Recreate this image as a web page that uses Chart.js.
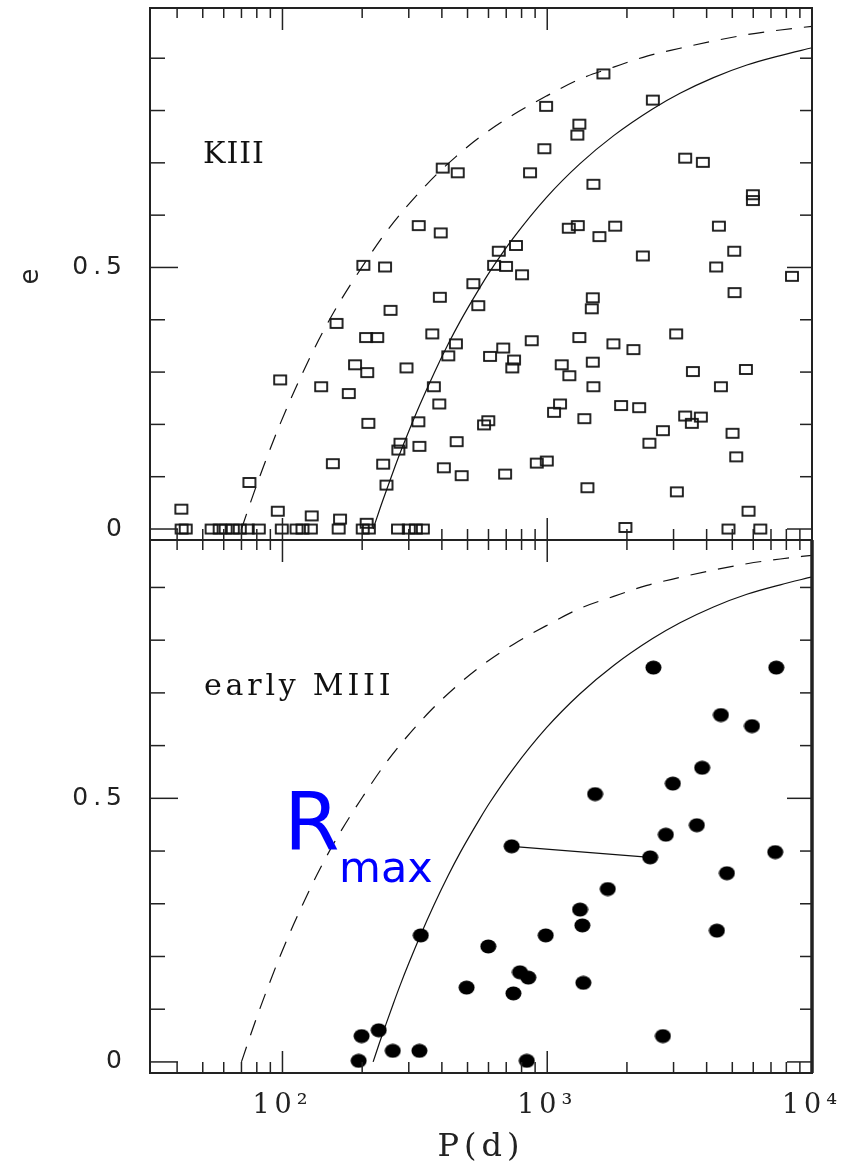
<!DOCTYPE html>
<html>
<head>
<meta charset="utf-8">
<script src="https://cdn.jsdelivr.net/npm/chart.js@4.4.1/dist/chart.umd.min.js"></script>
<style>
body{margin:0;background:#fff;}
#wrap{position:relative;width:844px;height:1165px;background:#fff;overflow:hidden;}
#top{position:absolute;left:0;top:0;}
#bot{position:absolute;left:0;top:530px;}
</style>
</head>
<body>
<div id="wrap">
<canvas id="top" width="844" height="545"></canvas>
<canvas id="bot" width="844" height="635"></canvas>
</div>
<script>
// KIII (open squares), period in days and eccentricity
const kP = [403, 459, 327, 396, 202, 244, 1630, 2505, 990, 1322, 1299, 975, 861, 1494, 3319, 3871, 5983, 5983,
  1206, 1304, 1574, 1805, 4450, 656, 762, 2297, 5084, 630, 699, 803, 4346, 8402,
  526, 393, 549, 256, 160, 207, 228, 368, 452, 423, 608, 188, 209, 294, 98, 140, 178, 373, 391, 211,
  326, 599, 577, 455, 279, 274, 329, 155, 240, 407, 475, 75, 247, 41.5, 96, 129, 165, 208,
  5098, 1486, 1473, 874, 682, 749, 738, 1134, 1212, 1322, 1486, 1494, 1778, 2116, 3069, 3549, 4529, 5628,
  1118, 1061, 1381, 1901, 2224, 3319, 3804, 3518, 2734, 2432, 5009, 5173, 996, 913, 693, 1418, 3087, 5758,
  1974, 4837, 6376,
  41.6, 43.1, 54, 57.9, 61, 64.9, 69, 73.9, 81.4, 99.4, 113, 119, 128, 163, 201, 212, 273, 300, 319, 339];
const kE = [0.690, 0.681, 0.580, 0.566, 0.504, 0.501, 0.870, 0.820, 0.808, 0.774, 0.753, 0.727, 0.681, 0.659, 0.709, 0.701, 0.639, 0.628,
  0.575, 0.580, 0.559, 0.579, 0.579, 0.531, 0.542, 0.522, 0.531, 0.504, 0.502, 0.486, 0.501, 0.483,
  0.469, 0.443, 0.427, 0.418, 0.393, 0.366, 0.366, 0.373, 0.354, 0.331, 0.330, 0.314, 0.299, 0.308, 0.285, 0.272, 0.259, 0.272, 0.239, 0.202,
  0.205, 0.207, 0.199, 0.167, 0.164, 0.151, 0.158, 0.125, 0.124, 0.117, 0.102, 0.089, 0.084, 0.038, 0.034, 0.025, 0.019, 0.011,
  0.452, 0.442, 0.421, 0.360, 0.346, 0.323, 0.308, 0.314, 0.293, 0.366, 0.319, 0.272, 0.354, 0.343, 0.373, 0.301, 0.272, 0.305,
  0.239, 0.223, 0.211, 0.236, 0.232, 0.216, 0.214, 0.202, 0.188, 0.164, 0.183, 0.138, 0.130, 0.126, 0.105, 0.079, 0.071, 0.034,
  0.003, 0, 0,
  0, 0, 0, 0, 0, 0, 0, 0, 0, 0, 0, 0, 0, 0, 0, 0, 0, 0, 0, 0];

// early MIII (filled circles)
const mP = [2518, 7328, 4529, 5933, 3848, 2982, 1516, 3674, 2805, 734, 2447, 7264, 4770, 1693, 1330, 1357,
  987, 599, 789, 848, 745, 1369, 4373, 2734, 837, 333, 496, 199, 231, 261, 329, 194];
const mE = [0.748, 0.748, 0.658, 0.637, 0.558, 0.528, 0.508, 0.449, 0.431, 0.409, 0.388, 0.398, 0.358, 0.328, 0.289, 0.259,
  0.240, 0.219, 0.170, 0.160, 0.130, 0.150, 0.249, 0.049, 0.002, 0.240, 0.141, 0.049, 0.060, 0.021, 0.021, 0.002];
// the two MIII points joined by a line
const linkP = [734, 2447];
const linkE = [0.409, 0.388];

// envelope curves
const dashP = [70, 74, 80, 88, 98, 110, 127, 145, 165, 201, 250, 351, 450, 556, 744, 996, 1327, 1782, 2381, 3174, 4245, 5676, 7594, 10000];
const dashE = [0, 0.036, 0.085, 0.141, 0.201, 0.26, 0.328, 0.385, 0.435, 0.503, 0.572, 0.659, 0.711, 0.749, 0.792, 0.828, 0.86, 0.883, 0.904, 0.919, 0.933, 0.945, 0.954, 0.961];
const solidP = [220, 232, 247, 262, 280, 300, 330, 373, 423, 469, 556, 607, 744, 994, 1327, 1782, 2500, 3174, 4245, 5676, 7594, 10000];
const solidE = [0, 0.035, 0.074, 0.11, 0.149, 0.187, 0.237, 0.297, 0.354, 0.397, 0.461, 0.492, 0.556, 0.634, 0.698, 0.752, 0.803, 0.833, 0.863, 0.887, 0.905, 0.92];

// ticks
const xTickVals = [100, 1000, 10000];
const xTickLabels = ['10²', '10³', '10⁴'];
const xMinor = [40, 50, 60, 70, 80, 90, 200, 300, 400, 500, 600, 700, 800, 900, 2000, 3000, 4000, 5000, 6000, 7000, 8000, 9000];
const yTickVals = [0, 0.5];
const yTickLabels = ['0', '0.5'];
const yMinor = [0.1, 0.2, 0.3, 0.4, 0.6, 0.7, 0.8, 0.9];

function pts(xs, ys) { return xs.map((v, i) => ({x: v, y: ys[i]})); }

function squareImg() {
  const c = document.createElement('canvas');
  c.width = 16; c.height = 13;
  const g = c.getContext('2d');
  g.strokeStyle = '#111'; g.lineWidth = 1.8;
  g.strokeRect(2, 2, 12, 9);
  return c;
}
function dotImg() {
  const c = document.createElement('canvas');
  c.width = 17; c.height = 15;
  const g = c.getContext('2d');
  g.fillStyle = '#000';
  g.beginPath(); g.ellipse(8.5, 7.5, 8, 7, 0, 0, Math.PI * 2); g.fill();
  return c;
}

const frameTicks = {
  id: 'frameTicks',
  beforeDraw(chart) { chart.ctx.letterSpacing = '5px'; },
  afterDraw(chart, args, opts) {
    const {ctx, chartArea: a} = chart;
    const x = chart.scales.x, y = chart.scales.y;
    ctx.save();
    ctx.strokeStyle = '#222';
    ctx.lineWidth = 1.5;
    const seg = (x1, y1, x2, y2) => { ctx.beginPath(); ctx.moveTo(x1, y1); ctx.lineTo(x2, y2); ctx.stroke(); };
    xMinor.forEach(v => { const p = x.getPixelForValue(v); seg(p, a.bottom, p, a.bottom - 11); seg(p, a.top, p, a.top + 10); });
    xTickVals.slice(0, 2).forEach(v => { const p = x.getPixelForValue(v); seg(p, a.bottom, p, a.bottom - 22); seg(p, a.top, p, a.top + 22); });
    yMinor.forEach(v => { const p = y.getPixelForValue(v); seg(a.left, p, a.left + 15, p); seg(a.right, p, a.right - 12, p); });
    yTickVals.forEach(v => { const p = y.getPixelForValue(v); seg(a.left, p, a.left + 28, p); seg(a.right, p, a.right - 25, p); });
    ctx.lineWidth = 2;
    ctx.strokeRect(a.left, a.top, a.right - a.left, a.bottom - a.top);
    if (opts.thickRight) { ctx.lineWidth = 3.5; seg(a.right, a.top, a.right, a.bottom); }
    ctx.restore();
  }
};

const notes = {
  id: 'notes',
  afterDraw(chart, args, opts) {
    const ctx = chart.ctx;
    ctx.save();
    (opts.items || []).forEach(t => {
      ctx.font = t.font;
      ctx.fillStyle = t.color || '#111';
      ctx.letterSpacing = (t.spacing || 0) + 'px';
      ctx.textAlign = 'left';
      ctx.textBaseline = 'alphabetic';
      ctx.fillText(t.text, t.x, t.y);
    });
    ctx.restore();
  }
};

function noPad(s) { s.paddingTop = 0; s.paddingBottom = 0; s.paddingLeft = 0; s.paddingRight = 0; }

function makeChart(id, datasets, yMax, bottom, items) {
  return new Chart(document.getElementById(id), {
    type: 'scatter',
    data: {datasets: datasets},
    options: {
      responsive: false,
      animation: false,
      devicePixelRatio: 1,
      layout: {
        autoPadding: false,
        padding: bottom ? {top: 10, right: 32, bottom: 0, left: 0} : {top: 8, right: 32, bottom: 5, left: 0}
      },
      plugins: {legend: {display: false}, tooltip: {enabled: false}, frameTicks: {thickRight: bottom}, notes: {items: items}},
      scales: {
        x: {
          type: 'logarithmic', min: 31.6, max: 10000,
          display: bottom,
          afterBuildTicks(s) { s.ticks = xTickVals.map(v => ({value: v})); },
          afterFit(s) { s.height = bottom ? 92 : 0; noPad(s); },
          grid: {display: false, drawTicks: false},
          border: {display: false},
          ticks: {autoSkip: false, maxRotation: 0, padding: 17, color: '#222',
            font: {family: '"DejaVu Serif"', size: 27}, callback: (v, i) => xTickLabels[i]},
          title: {display: true, text: 'P(d)', color: '#222', font: {family: '"DejaVu Serif"', size: 32}, padding: {top: 0, bottom: -2}}
        },
        y: {
          type: 'linear', min: -0.021, max: yMax,
          afterBuildTicks(s) { s.ticks = yTickVals.map(v => ({value: v})); },
          afterFit(s) { s.width = 150; noPad(s); },
          grid: {display: false, drawTicks: false},
          border: {display: false},
          ticks: {padding: 23, color: '#222', font: {family: '"DejaVu Sans"', size: 25}, callback: (v, i) => yTickLabels[i]},
          title: {display: !bottom, text: 'e', color: '#222', font: {family: '"DejaVu Sans"', size: 26}, padding: {top: 16, bottom: 0}}
        }
      }
    },
    plugins: [frameTicks, notes]
  });
}

function curveSets() {
  return [
    {data: pts(dashP, dashE), showLine: true, pointRadius: 0, borderColor: '#111', borderWidth: 1.2,
      borderDash: [16, 12], cubicInterpolationMode: 'monotone', fill: false},
    {data: pts(solidP, solidE), showLine: true, pointRadius: 0, borderColor: '#111', borderWidth: 1.2,
      cubicInterpolationMode: 'monotone', fill: false}
  ];
}

const sq = squareImg();
const dot = dotImg();

makeChart('top', [
  {data: pts(kP, kE), pointStyle: sq, pointRadius: 6},
  ...curveSets()
], 0.996, false, [
  {text: 'KIII', x: 203, y: 163, font: '30px "DejaVu Serif"', spacing: 1}
]);

makeChart('bot', [
  {data: pts(mP, mE), pointStyle: dot, pointRadius: 7},
  {data: pts(linkP, linkE), showLine: true, pointRadius: 0, borderColor: '#111', borderWidth: 1.2},
  ...curveSets()
], 0.99, true, [
  {text: 'early MIII', x: 204, y: 165, font: '30px "DejaVu Serif"', spacing: 3.8},
  {text: 'R', x: 284, y: 320, font: '80px "DejaVu Sans"', color: '#0000ff'},
  {text: 'max', x: 339, y: 352, font: '43px "DejaVu Sans"', color: '#0000ff'}
]);
</script>
</body>
</html>
